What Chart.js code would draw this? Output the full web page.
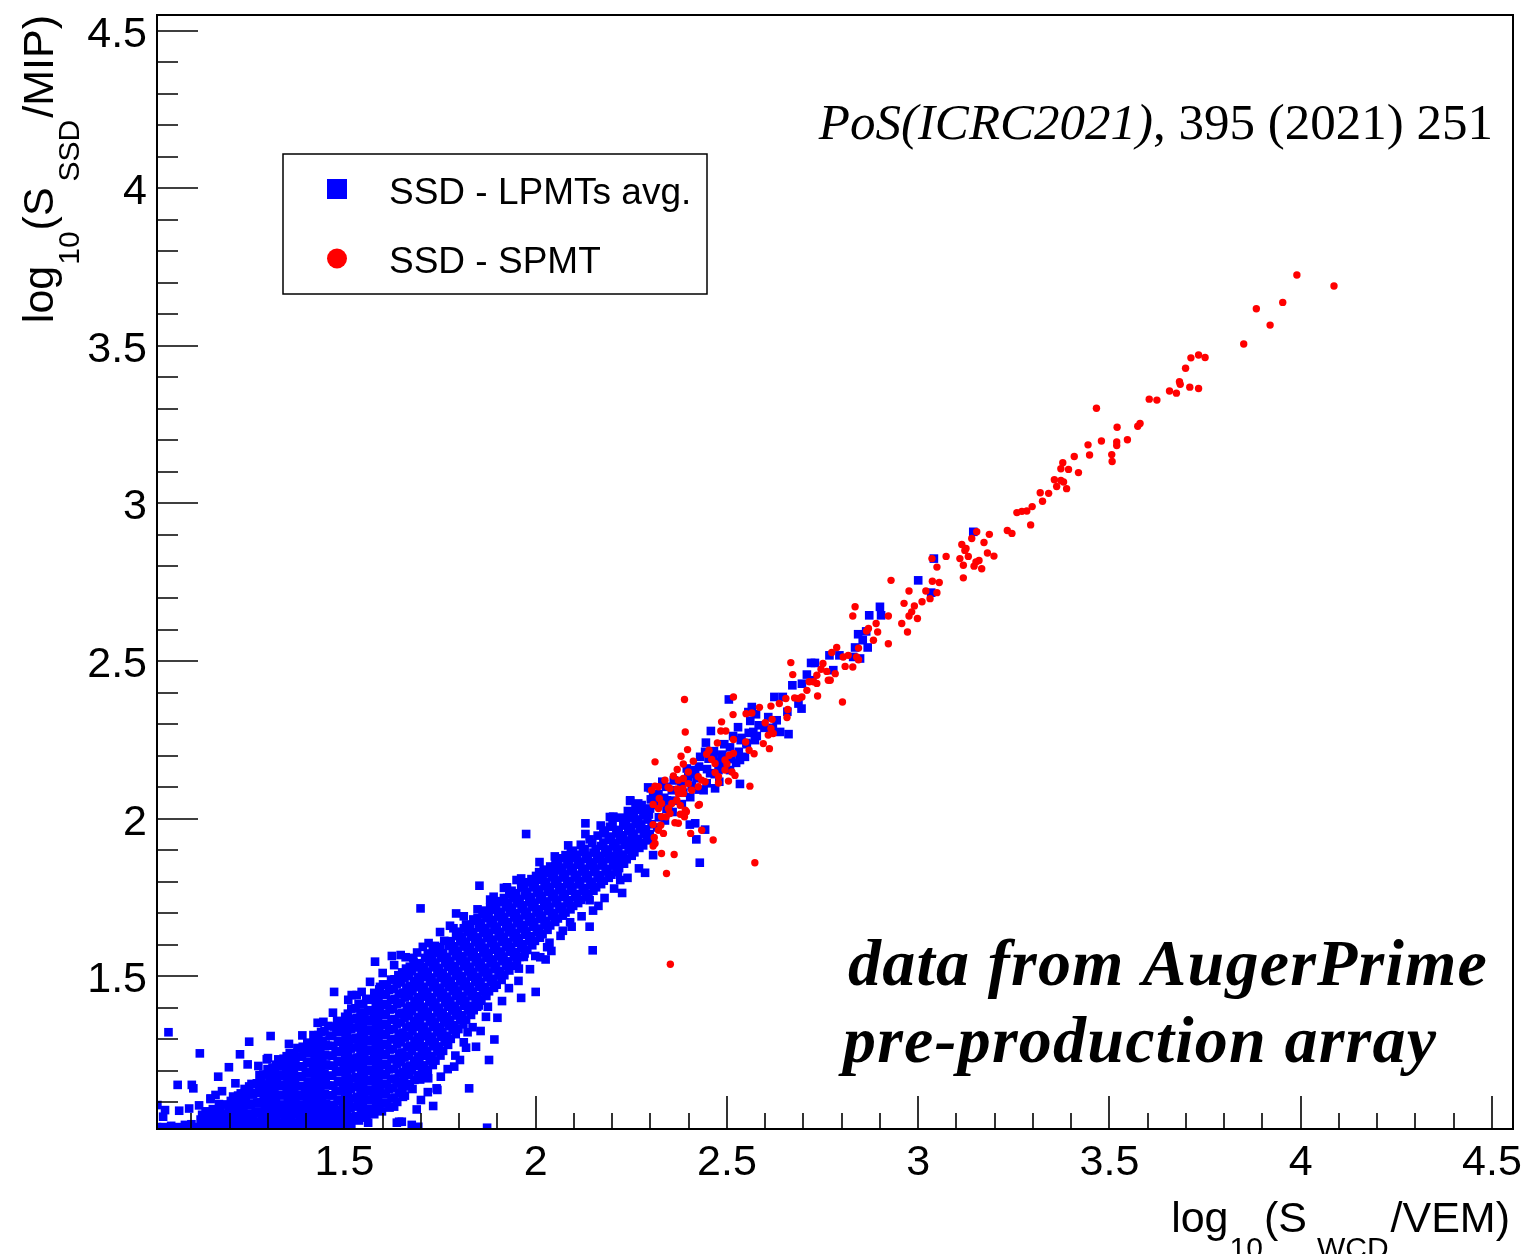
<!DOCTYPE html>
<html>
<head>
<meta charset="utf-8">
<title>SSD vs WCD signals</title>
<script src="https://cdn.jsdelivr.net/npm/chart.js@4.4.1/dist/chart.umd.min.js"></script>
<style>
  html, body { margin: 0; padding: 0; background: #fff; }
  #chart { display: block; }
</style>
</head>
<body>
<canvas id="chart" width="1532" height="1254"></canvas>
<script>
'use strict';

/* ─── Axis ranges, ticks & labels ──────────────────────────── */
const xRange     = [1.01, 4.555];
const yRange     = [1.015, 4.55];
const majorTicks = [1.5, 2, 2.5, 3, 3.5, 4, 4.5];
const tickLabels = ['1.5', '2', '2.5', '3', '3.5', '4', '4.5'];
const seriesNames = ['SSD - LPMTs avg.', 'SSD - SPMT'];
const noteText   = ['PoS(ICRC2021)', ', 395 (2021) 251'];
const bannerText = ['data from AugerPrime', 'pre-production array'];

/* ─── SSD - SPMT (red circles) [log10 S_WCD, log10 S_SSD] ──── */
const spmtPoints = [
  [3.990,3.725],[4.087,3.690],[3.884,3.618],[3.953,3.638],[3.920,3.566],[3.851,3.506],
  [3.713,3.462],[3.733,3.471],[3.750,3.463],[3.699,3.429],[3.683,3.386],[3.685,3.378],
  [3.657,3.357],[3.675,3.350],[3.710,3.369],[3.733,3.365],[3.604,3.331],[3.624,3.328],
  [3.466,3.302],[3.520,3.242],[3.574,3.245],[3.580,3.254],[3.547,3.202],[3.519,3.195],
  [3.519,3.184],[3.479,3.198],[3.444,3.186],[3.448,3.154],[3.506,3.155],[3.507,3.133],
  [3.408,3.149],[3.378,3.129],[3.373,3.110],[3.393,3.108],[3.419,3.098],[3.356,3.075],
  [3.373,3.073],[3.380,3.068],[3.362,3.054],[3.388,3.047],[3.319,3.034],[3.341,3.032],
  [3.325,3.007],[3.298,2.990],[3.258,2.971],[3.271,2.975],[3.284,2.976],[3.294,2.932],
  [3.233,2.914],[3.245,2.905],[3.186,2.902],[3.153,2.910],[3.140,2.889],[3.172,2.876],
  [3.114,2.870],[3.125,2.857],[3.122,2.851],[3.181,2.843],[3.198,2.833],[3.131,2.832],
  [3.109,2.825],[3.159,2.819],[3.151,2.814],[3.146,2.801],[3.166,2.793],[3.118,2.804],
  [3.118,2.764],[3.073,2.832],[3.036,2.825],[3.049,2.798],[2.929,2.756],[3.037,2.753],
  [3.055,2.749],[2.976,2.722],[3.020,2.722],[3.049,2.717],[3.031,2.698],[3.010,2.688],
  [2.963,2.683],[2.990,2.675],[2.983,2.656],[2.976,2.643],[2.998,2.635],[2.835,2.672],
  [2.829,2.643],[2.922,2.643],[2.972,2.592],[2.957,2.619],[2.922,2.555],[2.890,2.619],
  [2.870,2.603],[2.865,2.595],[2.894,2.592],[2.883,2.566],[2.787,2.543],[2.774,2.527],
  [2.804,2.513],[2.817,2.518],[2.839,2.513],[2.809,2.483],[2.829,2.481],[2.844,2.541],
  [2.844,2.504],[2.751,2.492],[2.746,2.474],[2.761,2.467],[2.783,2.460],[2.770,2.439],
  [2.735,2.455],[2.726,2.434],[2.715,2.434],[2.735,2.429],[2.737,2.389],[2.765,2.439],
  [2.709,2.407],[2.696,2.386],[2.687,2.381],[2.677,2.383],[2.667,2.495],[2.672,2.457],
  [2.654,2.381],[2.637,2.365],[2.659,2.346],[2.657,2.321],[2.615,2.357],[2.585,2.353],
  [2.600,2.304],[2.618,2.315],[2.615,2.286],[2.621,2.270],[2.608,2.265],[2.595,2.238],
  [2.611,2.222],[2.802,2.370],[2.517,2.386],[2.389,2.378],[2.391,2.275],[2.516,2.330],
  [2.550,2.333],[2.565,2.335],[2.486,2.307],[2.484,2.278],[2.497,2.278],[2.475,2.240],
  [2.517,2.251],[2.453,2.217],[2.447,2.204],[2.460,2.188],[2.469,2.175],[2.495,2.186],
  [2.506,2.201],[2.517,2.207],[2.500,2.173],[2.478,2.133],[2.495,2.154],[2.469,2.146],
  [2.478,2.113],[2.504,2.119],[2.521,2.137],[2.513,2.148],[2.560,2.103],[2.571,2.206],
  [2.549,2.243],[2.558,2.217],[2.397,2.219],[2.380,2.198],[2.412,2.182],[2.386,2.173],
  [2.312,2.180],[2.370,2.156],[2.360,2.135],[2.373,2.122],[2.386,2.127],[2.399,2.148],
  [2.399,2.111],[2.425,2.133],[2.434,2.122],[2.443,2.117],[2.425,2.101],[2.408,2.090],
  [2.385,2.096],[2.370,2.094],[2.351,2.096],[2.338,2.122],[2.321,2.101],[2.303,2.090],
  [2.323,2.064],[2.329,2.048],[2.321,2.032],[2.347,2.032],[2.356,2.048],[2.369,2.058],
  [2.378,2.042],[2.386,2.080],[2.373,2.080],[2.351,2.016],[2.341,2.006],[2.329,2.006],
  [2.378,2.014],[2.391,2.027],[2.389,2.006],[2.307,1.981],[2.327,1.979],[2.334,1.953],
  [2.321,1.963],[2.307,1.913],[2.312,1.921],[2.310,1.940],[2.329,1.889],[2.362,1.886],
  [2.342,1.826],[2.405,1.953],[2.434,1.963],[2.464,1.932],[2.573,1.860],[2.428,2.045],
  [2.352,1.538],[2.307,2.045],[2.394,2.022],[2.425,2.042],[2.364,1.987],[2.373,1.985],
  [2.312,2.103],[2.346,2.100]
];

/* ─── SSD - LPMTs avg. (blue squares): dense core ─────────── */
const lpmtCore = [
  [1.118,1.021],[1.124,1.045],[1.138,1.024],[1.143,1.052],[1.137,1.071],
  [1.158,1.020],[1.163,1.047],[1.156,1.078],[1.178,1.026],[1.183,1.054],[1.176,1.085],
  [1.199,1.019],[1.204,1.043],[1.197,1.072],[1.203,1.104],
  [1.218,1.025],[1.224,1.056],[1.216,1.088],[1.222,1.121],
  [1.238,1.020],[1.243,1.049],[1.236,1.079],[1.242,1.112],[1.239,1.142],
  [1.258,1.027],[1.262,1.058],[1.255,1.090],[1.261,1.124],[1.257,1.158],
  [1.279,1.020],[1.283,1.044],[1.276,1.071],[1.282,1.101],[1.277,1.135],[1.283,1.168],[1.278,1.186],
  [1.298,1.024],[1.303,1.053],[1.296,1.083],[1.302,1.116],[1.297,1.148],[1.304,1.179],[1.299,1.205],
  [1.318,1.019],[1.322,1.047],[1.316,1.075],[1.321,1.107],[1.317,1.138],[1.323,1.167],[1.318,1.197],[1.321,1.219],
  [1.338,1.026],[1.343,1.057],[1.336,1.089],[1.342,1.121],[1.337,1.152],[1.343,1.183],[1.339,1.214],[1.341,1.238],
  [1.358,1.021],[1.362,1.049],[1.356,1.078],[1.361,1.108],[1.357,1.141],[1.363,1.172],[1.358,1.203],[1.362,1.232],[1.357,1.256],
  [1.378,1.025],[1.383,1.055],[1.376,1.086],[1.382,1.118],[1.377,1.150],[1.383,1.181],[1.379,1.213],[1.381,1.245],[1.377,1.272],
  [1.398,1.020],[1.403,1.046],[1.396,1.074],[1.402,1.104],[1.397,1.135],[1.404,1.166],[1.399,1.196],[1.402,1.228],[1.397,1.259],[1.403,1.289],
  [1.418,1.024],[1.423,1.052],[1.416,1.083],[1.421,1.114],[1.417,1.146],[1.423,1.177],[1.418,1.209],[1.422,1.240],[1.417,1.271],[1.421,1.302],
  [1.438,1.021],[1.443,1.049],[1.436,1.078],[1.441,1.107],[1.437,1.138],[1.443,1.170],[1.439,1.201],[1.442,1.232],[1.437,1.264],[1.443,1.295],[1.439,1.323],
  [1.458,1.026],[1.462,1.057],[1.456,1.089],[1.461,1.121],[1.457,1.153],[1.462,1.184],[1.458,1.216],[1.463,1.248],[1.457,1.279],[1.461,1.311],[1.458,1.342],
  [1.478,1.020],[1.483,1.047],[1.476,1.076],[1.482,1.106],[1.477,1.137],[1.483,1.168],[1.478,1.200],[1.482,1.231],[1.477,1.262],[1.483,1.294],[1.479,1.326],[1.481,1.358],
  [1.498,1.031],[1.503,1.059],[1.496,1.088],[1.502,1.118],[1.497,1.149],[1.503,1.181],[1.498,1.212],[1.502,1.244],[1.497,1.275],[1.503,1.307],[1.499,1.338],[1.502,1.371],
  [1.518,1.027],[1.523,1.053],[1.516,1.082],[1.521,1.112],[1.517,1.143],[1.523,1.175],[1.518,1.206],[1.522,1.238],[1.517,1.270],[1.523,1.301],[1.518,1.333],[1.522,1.364],[1.518,1.397],
  [1.538,1.042],[1.543,1.071],[1.536,1.101],[1.542,1.132],[1.537,1.163],[1.543,1.195],[1.539,1.226],[1.542,1.258],[1.537,1.289],[1.543,1.321],[1.538,1.352],[1.542,1.384],[1.537,1.412],
  [1.558,1.051],[1.562,1.079],[1.556,1.109],[1.561,1.140],[1.557,1.171],[1.563,1.203],[1.558,1.234],[1.562,1.266],[1.557,1.297],[1.563,1.329],[1.558,1.361],[1.562,1.392],[1.557,1.428],
  [1.578,1.062],[1.583,1.091],[1.576,1.121],[1.582,1.152],[1.577,1.183],[1.583,1.215],[1.578,1.246],[1.582,1.278],[1.577,1.309],[1.583,1.341],[1.578,1.372],[1.582,1.404],[1.578,1.447],
  [1.598,1.071],[1.603,1.099],[1.596,1.128],[1.602,1.159],[1.597,1.190],[1.603,1.222],[1.598,1.253],[1.602,1.285],[1.597,1.316],[1.603,1.348],[1.598,1.380],[1.602,1.411],[1.598,1.443],[1.601,1.474],
  [1.618,1.083],[1.623,1.112],[1.616,1.142],[1.622,1.173],[1.617,1.204],[1.623,1.236],[1.618,1.267],[1.622,1.299],[1.617,1.330],[1.623,1.362],[1.618,1.394],[1.622,1.425],[1.617,1.457],[1.622,1.489],
  [1.638,1.101],[1.643,1.130],[1.636,1.160],[1.642,1.191],[1.637,1.222],[1.643,1.254],[1.638,1.285],[1.642,1.317],[1.637,1.348],[1.643,1.380],[1.638,1.412],[1.642,1.443],[1.637,1.475],[1.641,1.503],
  [1.658,1.121],[1.662,1.150],[1.656,1.180],[1.661,1.211],[1.657,1.242],[1.663,1.274],[1.658,1.305],[1.662,1.337],[1.657,1.368],[1.663,1.400],[1.658,1.432],[1.662,1.463],[1.657,1.495],[1.661,1.524],
  [1.678,1.142],[1.683,1.171],[1.676,1.201],[1.682,1.232],[1.677,1.263],[1.683,1.295],[1.678,1.326],[1.682,1.358],[1.677,1.389],[1.683,1.421],[1.678,1.453],[1.682,1.484],[1.677,1.516],[1.681,1.543],
  [1.698,1.172],[1.703,1.200],[1.696,1.229],[1.702,1.260],[1.697,1.291],[1.703,1.323],[1.698,1.354],[1.702,1.386],[1.697,1.417],[1.703,1.449],[1.698,1.481],[1.702,1.512],[1.697,1.541],
  [1.718,1.203],[1.723,1.232],[1.716,1.262],[1.722,1.293],[1.717,1.324],[1.723,1.356],[1.718,1.387],[1.722,1.419],[1.717,1.450],[1.723,1.482],[1.718,1.514],[1.722,1.545],[1.718,1.572],
  [1.738,1.232],[1.743,1.261],[1.736,1.291],[1.742,1.322],[1.737,1.353],[1.743,1.385],[1.738,1.416],[1.742,1.448],[1.737,1.479],[1.743,1.511],[1.738,1.543],[1.742,1.574],[1.737,1.596],
  [1.758,1.263],[1.762,1.292],[1.756,1.322],[1.761,1.353],[1.757,1.384],[1.763,1.416],[1.758,1.447],[1.762,1.479],[1.757,1.510],[1.763,1.542],[1.758,1.573],[1.761,1.612],
  [1.778,1.301],[1.783,1.330],[1.776,1.360],[1.782,1.391],[1.777,1.422],[1.783,1.454],[1.778,1.485],[1.782,1.517],[1.777,1.548],[1.783,1.580],[1.778,1.611],
  [1.798,1.332],[1.803,1.361],[1.796,1.391],[1.802,1.422],[1.797,1.453],[1.803,1.485],[1.798,1.516],[1.802,1.548],[1.797,1.579],[1.803,1.611],[1.798,1.641],
  [1.818,1.362],[1.823,1.391],[1.816,1.421],[1.822,1.452],[1.817,1.483],[1.823,1.515],[1.818,1.546],[1.822,1.578],[1.817,1.609],[1.823,1.641],[1.818,1.664],
  [1.838,1.392],[1.843,1.421],[1.836,1.451],[1.842,1.482],[1.837,1.513],[1.843,1.545],[1.838,1.576],[1.842,1.608],[1.837,1.639],[1.841,1.676],
  [1.858,1.422],[1.862,1.451],[1.856,1.481],[1.861,1.512],[1.857,1.543],[1.863,1.575],[1.858,1.606],[1.862,1.638],[1.857,1.669],[1.861,1.697],
  [1.878,1.452],[1.883,1.481],[1.876,1.511],[1.882,1.542],[1.877,1.573],[1.883,1.605],[1.878,1.636],[1.882,1.668],[1.877,1.699],[1.881,1.718],
  [1.898,1.473],[1.903,1.502],[1.896,1.532],[1.902,1.563],[1.897,1.594],[1.903,1.626],[1.898,1.657],[1.902,1.689],[1.897,1.720],[1.901,1.738],
  [1.918,1.503],[1.923,1.532],[1.916,1.562],[1.922,1.593],[1.917,1.624],[1.923,1.656],[1.918,1.687],[1.922,1.719],[1.917,1.748],
  [1.938,1.533],[1.943,1.562],[1.936,1.592],[1.942,1.623],[1.937,1.654],[1.943,1.686],[1.938,1.717],[1.942,1.749],[1.937,1.771],
  [1.958,1.561],[1.962,1.590],[1.956,1.620],[1.961,1.651],[1.957,1.682],[1.963,1.714],[1.958,1.745],[1.962,1.781],
  [1.978,1.583],[1.983,1.612],[1.976,1.642],[1.982,1.673],[1.977,1.704],[1.983,1.736],[1.978,1.767],[1.981,1.798],
  [1.998,1.612],[2.003,1.641],[1.996,1.671],[2.002,1.702],[1.997,1.733],[2.003,1.765],[1.998,1.796],[2.001,1.818],
  [2.018,1.633],[2.023,1.662],[2.016,1.692],[2.022,1.723],[2.017,1.754],[2.023,1.786],[2.018,1.817],[2.021,1.838],
  [2.038,1.661],[2.043,1.690],[2.036,1.720],[2.042,1.751],[2.037,1.782],[2.043,1.814],[2.038,1.848],
  [2.058,1.683],[2.062,1.712],[2.056,1.742],[2.061,1.773],[2.057,1.804],[2.063,1.836],[2.058,1.866],
  [2.078,1.702],[2.083,1.731],[2.076,1.761],[2.082,1.792],[2.077,1.823],[2.083,1.855],[2.078,1.884],
  [2.098,1.723],[2.103,1.752],[2.096,1.782],[2.102,1.813],[2.097,1.844],[2.103,1.876],[2.098,1.898],
  [2.118,1.742],[2.123,1.771],[2.116,1.801],[2.122,1.832],[2.117,1.863],[2.123,1.895],[2.118,1.917],
  [2.138,1.761],[2.143,1.790],[2.136,1.820],[2.142,1.851],[2.137,1.882],[2.141,1.934],
  [2.158,1.782],[2.162,1.811],[2.156,1.841],[2.161,1.872],[2.157,1.903],[2.162,1.946],
  [2.178,1.803],[2.183,1.832],[2.176,1.862],[2.182,1.893],[2.177,1.924],[2.181,1.962],
  [2.198,1.822],[2.203,1.851],[2.196,1.881],[2.202,1.912],[2.197,1.943],[2.201,1.983],
  [2.218,1.843],[2.223,1.872],[2.216,1.902],[2.222,1.933],[2.217,1.964],[2.221,2.003],
  [2.238,1.871],[2.243,1.900],[2.236,1.930],[2.242,1.961],[2.237,1.992],[2.241,2.024],
  [2.258,1.893],[2.262,1.922],[2.256,1.952],[2.261,1.983],[2.257,2.014],[2.261,2.038],
  [2.278,1.922],[2.283,1.951],[2.276,1.981],[2.282,2.012],[2.277,2.043],
  [2.298,1.951],[2.303,1.982],[2.296,2.013],[2.301,2.061],
  [2.318,1.972],[2.322,2.004],[2.316,2.043],[2.321,2.078],
  [2.338,1.994],[2.342,2.031],[2.336,2.066],[2.341,2.101],
  [2.358,2.021],[2.362,2.057],[2.356,2.090],[2.361,2.121]
];

/* ─── SSD - LPMTs avg.: in-between points of the core ─────── */
const lpmtFill = [
  [1.131,1.036],[1.128,1.060],[1.151,1.035],[1.148,1.064],[1.171,1.038],[1.168,1.068],[1.172,1.094],
  [1.191,1.034],[1.188,1.062],[1.192,1.093],[1.211,1.035],[1.208,1.066],[1.212,1.097],[1.209,1.118],
  [1.231,1.036],[1.228,1.067],[1.232,1.098],[1.229,1.128],
  [1.251,1.034],[1.248,1.064],[1.252,1.096],[1.249,1.127],[1.251,1.150],
  [1.271,1.036],[1.268,1.066],[1.272,1.098],[1.269,1.130],[1.271,1.160],
  [1.291,1.033],[1.288,1.062],[1.292,1.093],[1.289,1.124],[1.291,1.156],[1.288,1.188],
  [1.311,1.036],[1.308,1.065],[1.312,1.096],[1.309,1.127],[1.311,1.158],[1.308,1.190],[1.312,1.210],
  [1.331,1.033],[1.328,1.062],[1.332,1.093],[1.329,1.124],[1.331,1.156],[1.328,1.188],[1.332,1.220],
  [1.351,1.036],[1.348,1.066],[1.352,1.097],[1.349,1.128],[1.351,1.160],[1.348,1.191],[1.352,1.222],[1.349,1.246],
  [1.371,1.034],[1.368,1.064],[1.372,1.095],[1.369,1.126],[1.371,1.158],[1.368,1.190],[1.372,1.221],[1.369,1.252],
  [1.391,1.035],[1.388,1.062],[1.392,1.092],[1.389,1.122],[1.391,1.152],[1.388,1.183],[1.392,1.214],[1.389,1.245],[1.391,1.276],
  [1.411,1.033],[1.408,1.064],[1.412,1.096],[1.409,1.128],[1.411,1.160],[1.408,1.192],[1.412,1.224],[1.409,1.255],[1.411,1.286],
  [1.431,1.036],[1.428,1.066],[1.432,1.097],[1.429,1.128],[1.431,1.160],[1.428,1.191],[1.432,1.222],[1.429,1.252],[1.431,1.284],[1.428,1.310],
  [1.451,1.034],[1.448,1.064],[1.452,1.095],[1.449,1.126],[1.451,1.158],[1.448,1.189],[1.452,1.220],[1.449,1.251],[1.451,1.283],[1.448,1.326],
  [1.471,1.035],[1.468,1.062],[1.472,1.092],[1.469,1.122],[1.471,1.153],[1.468,1.184],[1.472,1.216],[1.469,1.247],[1.471,1.279],[1.468,1.310],[1.472,1.340],
  [1.491,1.044],[1.488,1.073],[1.492,1.103],[1.489,1.134],[1.491,1.165],[1.488,1.196],[1.492,1.228],[1.489,1.259],[1.491,1.291],[1.488,1.322],[1.492,1.352],
  [1.511,1.042],[1.508,1.068],[1.512,1.098],[1.509,1.128],[1.511,1.159],[1.508,1.190],[1.512,1.222],[1.509,1.254],[1.511,1.286],[1.508,1.317],[1.512,1.349],[1.509,1.381],
  [1.531,1.056],[1.528,1.086],[1.532,1.117],[1.529,1.148],[1.531,1.179],[1.528,1.211],[1.532,1.242],[1.529,1.274],[1.531,1.305],[1.528,1.337],[1.532,1.368],[1.529,1.398],
  [1.551,1.064],[1.548,1.094],[1.552,1.124],[1.549,1.155],[1.551,1.187],[1.548,1.218],[1.552,1.250],[1.549,1.281],[1.551,1.313],[1.548,1.345],[1.552,1.376],[1.549,1.410],
  [1.571,1.076],[1.568,1.106],[1.572,1.136],[1.569,1.167],[1.571,1.199],[1.568,1.230],[1.572,1.262],[1.569,1.293],[1.571,1.325],[1.568,1.356],[1.572,1.388],[1.569,1.425],
  [1.591,1.085],[1.588,1.114],[1.592,1.144],[1.589,1.175],[1.591,1.206],[1.588,1.238],[1.592,1.269],[1.589,1.301],[1.591,1.332],[1.588,1.364],[1.592,1.396],[1.589,1.428],[1.591,1.458],
  [1.611,1.097],[1.608,1.126],[1.612,1.156],[1.609,1.187],[1.611,1.218],[1.608,1.250],[1.612,1.281],[1.609,1.313],[1.611,1.344],[1.608,1.376],[1.612,1.408],[1.609,1.440],[1.611,1.472],
  [1.631,1.115],[1.628,1.144],[1.632,1.175],[1.629,1.206],[1.631,1.238],[1.628,1.269],[1.632,1.301],[1.629,1.332],[1.631,1.364],[1.628,1.396],[1.632,1.428],[1.629,1.460],[1.631,1.490],
  [1.651,1.135],[1.648,1.165],[1.652,1.196],[1.649,1.227],[1.651,1.258],[1.648,1.290],[1.652,1.321],[1.649,1.353],[1.651,1.384],[1.648,1.416],[1.652,1.448],[1.649,1.480],[1.651,1.512],
  [1.671,1.157],[1.668,1.186],[1.672,1.216],[1.669,1.247],[1.671,1.279],[1.668,1.310],[1.672,1.342],[1.669,1.373],[1.671,1.405],[1.668,1.437],[1.672,1.469],[1.669,1.500],[1.671,1.530],
  [1.691,1.186],[1.688,1.215],[1.692,1.245],[1.689,1.276],[1.691,1.307],[1.688,1.339],[1.692,1.370],[1.689,1.402],[1.691,1.433],[1.688,1.465],[1.692,1.497],[1.689,1.528],
  [1.711,1.188],[1.708,1.217],[1.712,1.247],[1.709,1.278],[1.711,1.309],[1.708,1.340],[1.712,1.372],[1.709,1.403],[1.711,1.435],[1.708,1.466],[1.712,1.498],[1.709,1.530],[1.711,1.558],
  [1.731,1.218],[1.728,1.247],[1.732,1.277],[1.729,1.308],[1.731,1.339],[1.728,1.370],[1.732,1.402],[1.729,1.433],[1.731,1.465],[1.728,1.496],[1.732,1.528],[1.729,1.560],[1.731,1.586],
  [1.751,1.248],[1.748,1.277],[1.752,1.307],[1.749,1.338],[1.751,1.369],[1.748,1.400],[1.752,1.432],[1.749,1.463],[1.751,1.495],[1.748,1.526],[1.752,1.558],[1.749,1.592],
  [1.771,1.282],[1.768,1.311],[1.772,1.341],[1.769,1.372],[1.771,1.403],[1.768,1.435],[1.772,1.466],[1.769,1.498],[1.771,1.529],[1.768,1.561],[1.772,1.596],
  [1.791,1.316],[1.788,1.345],[1.792,1.375],[1.789,1.406],[1.791,1.437],[1.788,1.469],[1.792,1.500],[1.789,1.532],[1.791,1.563],[1.788,1.595],[1.792,1.627],
  [1.811,1.347],[1.808,1.376],[1.812,1.406],[1.809,1.437],[1.811,1.468],[1.808,1.500],[1.812,1.531],[1.809,1.563],[1.811,1.594],[1.808,1.626],[1.812,1.652],
  [1.831,1.377],[1.828,1.406],[1.832,1.436],[1.829,1.467],[1.831,1.498],[1.828,1.530],[1.832,1.561],[1.829,1.593],[1.831,1.624],[1.828,1.656],
  [1.851,1.407],[1.848,1.436],[1.852,1.466],[1.849,1.497],[1.851,1.528],[1.848,1.560],[1.852,1.591],[1.849,1.623],[1.851,1.654],[1.848,1.684],
  [1.871,1.437],[1.868,1.466],[1.872,1.496],[1.869,1.527],[1.871,1.558],[1.868,1.590],[1.872,1.621],[1.869,1.653],[1.871,1.684],[1.868,1.708],
  [1.891,1.463],[1.888,1.492],[1.892,1.522],[1.889,1.553],[1.891,1.584],[1.888,1.616],[1.892,1.647],[1.889,1.679],[1.891,1.710],[1.888,1.730],
  [1.911,1.488],[1.908,1.517],[1.912,1.547],[1.909,1.578],[1.911,1.609],[1.908,1.641],[1.912,1.672],[1.909,1.704],[1.911,1.735],
  [1.931,1.518],[1.928,1.547],[1.932,1.577],[1.929,1.608],[1.931,1.639],[1.928,1.671],[1.932,1.702],[1.929,1.734],[1.931,1.760],
  [1.951,1.547],[1.948,1.576],[1.952,1.606],[1.949,1.637],[1.951,1.668],[1.948,1.700],[1.952,1.731],[1.949,1.763],
  [1.971,1.572],[1.968,1.601],[1.972,1.631],[1.969,1.662],[1.971,1.693],[1.968,1.725],[1.972,1.756],[1.969,1.788],
  [1.991,1.598],[1.988,1.627],[1.992,1.657],[1.989,1.688],[1.991,1.719],[1.988,1.751],[1.992,1.782],[1.989,1.808],
  [2.011,1.622],[2.008,1.651],[2.012,1.681],[2.009,1.712],[2.011,1.743],[2.008,1.775],[2.012,1.806],[2.009,1.830],
  [2.031,1.647],[2.028,1.676],[2.032,1.706],[2.029,1.737],[2.031,1.768],[2.028,1.800],[2.032,1.831],
  [2.051,1.672],[2.048,1.701],[2.052,1.731],[2.049,1.762],[2.051,1.793],[2.048,1.825],[2.052,1.856],
  [2.071,1.692],[2.068,1.721],[2.072,1.751],[2.069,1.782],[2.071,1.813],[2.068,1.845],[2.072,1.874],
  [2.091,1.712],[2.088,1.741],[2.092,1.771],[2.089,1.802],[2.091,1.833],[2.088,1.865],[2.092,1.890],
  [2.111,1.732],[2.108,1.761],[2.112,1.791],[2.109,1.822],[2.111,1.853],[2.108,1.885],
  [2.131,1.751],[2.128,1.780],[2.132,1.810],[2.129,1.841],[2.131,1.872],[2.128,1.904],
  [2.151,1.771],[2.148,1.800],[2.152,1.830],[2.149,1.861],[2.151,1.892],[2.148,1.922],
  [2.171,1.792],[2.168,1.821],[2.172,1.851],[2.169,1.882],[2.171,1.913],
  [2.191,1.812],[2.188,1.841],[2.192,1.871],[2.189,1.902],[2.191,1.933],
  [2.211,1.832],[2.208,1.861],[2.212,1.891],[2.209,1.922],[2.211,1.953],
  [2.231,1.857],[2.228,1.886],[2.232,1.916],[2.229,1.947],[2.231,1.978],
  [2.251,1.882],[2.248,1.911],[2.252,1.941],[2.249,1.972],[2.251,2.003],
  [2.271,1.907],[2.268,1.936],[2.272,1.966],[2.269,1.997],[2.271,2.028],
  [2.291,1.936],[2.288,1.966],[2.292,1.997],[2.289,2.030]
];

/* ─── SSD - LPMTs avg.: scattered edge points ─────────────── */
const lpmtEdge = [
  [1.011,1.091],[1.031,1.075],[1.026,1.054],[1.010,1.021],[1.026,1.021],[1.062,1.021],
  [1.083,1.028],[1.068,1.073],[1.094,1.080],[1.040,1.322],[1.064,1.155],[1.101,1.155],
  [1.105,1.144],[1.122,1.255],[1.047,1.025],[1.075,1.019],[1.100,1.030],
  [1.251,1.292],[1.307,1.310],[1.227,1.252],[1.198,1.211],[1.170,1.181],[1.247,1.220],
  [1.150,1.112],[1.163,1.123],[1.473,1.450],[1.519,1.440],[1.532,1.440],[1.445,1.355],
  [1.493,1.355],[1.580,1.546],[1.624,1.564],[1.647,1.567],[1.680,1.558],[1.705,1.593],
  [1.741,1.144],[1.732,1.088],[1.689,1.077],[1.693,1.022],[1.650,1.038],[1.637,1.035],
  [1.562,1.035],[1.699,1.715],[1.873,1.019],[1.826,1.144],[1.743,1.139],
  [1.297,1.236],[1.327,1.236],[1.349,1.228],[1.393,1.266],[1.410,1.274],[1.419,1.313],
  [1.432,1.313],[1.567,1.482],[1.593,1.466],
  [1.853,1.787],[1.917,1.780],[1.962,1.810],[1.975,1.951],[2.022,1.828],[2.046,1.817],
  [2.051,1.849],[2.141,1.657],[2.149,1.582],[2.164,1.723],[2.141,1.741],[2.071,1.644],
  [2.094,1.657],[2.000,1.450],[1.962,1.431],[1.956,1.524],[1.999,1.564],[1.969,1.561],
  [2.026,1.553],[2.041,1.580],[2.036,1.606],[1.900,1.368],[1.878,1.234],[1.892,1.299],
  [1.844,1.276],[1.818,1.273],[1.802,1.234],[1.787,1.213],[1.856,1.326],[1.822,1.322],
  [1.875,1.403],[1.850,1.424],[1.847,1.403],[1.719,1.176],[1.653,1.165],[1.650,1.139],
  [1.653,1.117],[1.630,1.086],[1.643,1.038],[1.676,1.028],
  [1.792,1.699],[1.776,1.660],[1.837,1.680],[1.881,1.743],
  [1.700,1.107],[1.718,1.132],[1.752,1.181],[1.770,1.205],[1.790,1.248],[1.812,1.290],
  [1.835,1.338],[1.870,1.371],[1.912,1.421],[1.930,1.462],[1.955,1.485],[1.985,1.522],
  [2.012,1.560],[2.030,1.592],[2.065,1.628],[2.090,1.671],[2.120,1.690],[2.150,1.708],
  [2.180,1.748],[2.205,1.778],[2.240,1.812],[2.270,1.842],
  [1.120,1.090],[1.150,1.110],[1.180,1.135],[1.215,1.160],[1.275,1.215],[1.300,1.240],
  [1.355,1.285],[1.390,1.312],[1.430,1.352],[1.470,1.384],[1.510,1.425],[1.545,1.450],
  [1.600,1.510],[1.630,1.535],[1.660,1.560],[1.690,1.575],[1.720,1.605],[1.750,1.640],
  [1.785,1.652],[1.812,1.690],[1.848,1.712],[1.890,1.752],[1.925,1.782],[1.950,1.805],
  [2.010,1.862],[2.050,1.880],[2.085,1.915],[2.130,1.951],[2.170,1.978]
];

/* ─── SSD - LPMTs avg.: high-signal tail ──────────────────── */
const lpmtTail = [
  [2.286,1.828],[2.226,1.764],[2.215,1.830],[2.221,1.805],[2.194,2.005],[2.202,2.005],
  [2.130,1.985],[2.247,2.056],[2.294,2.099],[2.307,2.068],
  [3.000,2.756],[2.900,2.672],[2.872,2.645],[2.903,2.645],[2.864,2.594],[2.843,2.585],
  [2.855,2.566],[2.868,2.543],[2.835,2.543],[2.720,2.494],[2.730,2.494],[2.709,2.457],
  [2.671,2.423],[2.696,2.428],[2.723,2.439],[2.768,2.518],[2.794,2.518],[2.778,2.471],
  [2.830,2.513],[2.848,2.508],[2.624,2.386],[2.646,2.386],[2.687,2.365],[2.695,2.349],
  [2.658,2.339],[2.505,2.378],[2.565,2.354],[2.556,2.338],[2.608,2.322],[2.630,2.312],
  [2.639,2.275],[2.661,2.268],[2.620,2.288],[2.458,2.278],[2.445,2.241],[2.538,2.256],
  [2.551,2.240],[2.569,2.275],[2.573,2.249],[2.524,2.177],[2.508,2.154],[2.534,2.186],
  [2.547,2.196],[2.534,2.110],[2.430,2.196],[2.443,2.212],[2.465,2.191],[2.486,2.196],
  [2.495,2.175],[2.478,2.154],[2.456,2.144],[2.447,2.112],[2.469,2.096],[2.480,2.117],
  [2.439,2.090],[2.417,2.154],[2.399,2.133],[2.395,2.159],
  [2.331,2.117],[2.301,2.096],[2.312,2.069],[2.343,2.058],[2.347,2.032],[2.299,2.032],
  [2.282,2.016],[2.247,2.058],[2.268,2.048],[2.255,2.016],[2.264,1.995],[2.242,2.006],
  [2.229,1.985],[2.203,2.006],[2.194,1.974],[2.212,1.963],[2.177,1.953],[2.220,1.942],
  [2.247,1.921],[2.268,1.910],[2.281,1.915],[2.307,1.884],[2.299,1.931],[2.251,1.889],
  [2.229,1.857],[2.203,1.868],[2.186,1.889],[2.403,1.981],[2.420,1.934],[2.429,1.860],
  [2.443,1.965],[2.417,1.985],[3.144,2.910],[3.041,2.825],[3.034,2.717],
  [2.382,2.046],[2.386,2.082],[2.381,2.116],[2.404,2.068],[2.408,2.105],[2.402,2.142],
  [2.426,2.092],[2.421,2.128],[2.427,2.165],[2.448,2.157],[2.452,2.190],[2.468,2.141],
  [2.474,2.178],[2.466,2.214],[2.491,2.165],[2.488,2.203],[2.493,2.236],[2.512,2.189],
  [2.508,2.226],[2.516,2.262],[2.531,2.212],[2.536,2.249],[2.529,2.290],[2.552,2.236],
  [2.557,2.272],[2.561,2.310],[2.578,2.262],[2.583,2.296],[2.576,2.331],[2.598,2.288]
];

const lpmtPoints = lpmtCore.concat(lpmtFill, lpmtEdge, lpmtTail);

/* ─── Helpers ──────────────────────────────────────────────── */
const toXY = arr => arr.map(([x, y]) => ({ x, y }));
const SANS  = '"Liberation Sans", Arial, Helvetica, sans-serif';
const SERIF = '"Liberation Serif", "Times New Roman", Times, serif';

// draw text made of runs: [text, size, baselineShift, gapBefore]
function drawRuns(ctx, runs, x, y, align) {
  let w = 0;
  runs.forEach(r => { ctx.font = `${r[1]}px ${SANS}`; w += r[3] + ctx.measureText(r[0]).width; });
  let cx = align === 'right' ? x - w : x;
  ctx.textAlign = 'left';
  ctx.textBaseline = 'alphabetic';
  runs.forEach(r => {
    ctx.font = `${r[1]}px ${SANS}`;
    cx += r[3];
    ctx.fillText(r[0], cx, y + r[2]);
    cx += ctx.measureText(r[0]).width;
  });
}

/* ─── ROOT-style frame, ticks, labels and texts ───────────── */
const rootFrame = {
  id: 'rootFrame',
  afterDraw(chart) {
    const { ctx, chartArea: a, scales: { x, y } } = chart;
    ctx.save();
    ctx.strokeStyle = '#000';
    ctx.fillStyle = '#000';

    // inward ticks every 0.1, long ones on the labelled values
    ctx.lineWidth = 1.6;
    ctx.beginPath();
    for (let i = 11; i <= 45; i++) {
      const v = i / 10;
      const major = i % 5 === 0;
      const px = Math.round(x.getPixelForValue(v));
      ctx.moveTo(px, a.bottom);
      ctx.lineTo(px, a.bottom - (major ? 33 : 16));
      const py = Math.round(y.getPixelForValue(v));
      ctx.moveTo(a.left, py);
      ctx.lineTo(a.left + (major ? 41 : 21), py);
    }
    ctx.stroke();

    ctx.lineWidth = 2;
    ctx.strokeRect(a.left, a.top, a.right - a.left, a.bottom - a.top);

    // tick labels
    ctx.font = `43px ${SANS}`;
    ctx.textBaseline = 'alphabetic';
    majorTicks.forEach((v, i) => {
      ctx.textAlign = 'center';
      ctx.fillText(tickLabels[i], x.getPixelForValue(v), a.bottom + 46);
      ctx.textAlign = 'right';
      ctx.fillText(tickLabels[i], a.left - 10, y.getPixelForValue(v) + 16);
    });

    // axis titles
    drawRuns(ctx, [['log', 43, 0, 0], ['10', 30, 26, 1], ['(S', 43, 0, 1],
                   ['WCD', 30, 26, 10], ['/VEM)', 43, 0, 2]], a.right - 3, 1232, 'right');
    ctx.save();
    ctx.translate(53, a.top);
    ctx.rotate(-Math.PI / 2);
    drawRuns(ctx, [['log', 43, 0, 0], ['10', 30, 26, 1], ['(S', 43, 0, 1],
                   ['SSD', 30, 26, 6], ['/MIP)', 43, 0, 2]], 0, 0, 'right');
    ctx.restore();

    // legend box
    ctx.lineWidth = 1.5;
    ctx.strokeRect(283, 154, 424, 140);
    ctx.fillStyle = '#0000ff';
    ctx.fillRect(327, 179, 20, 20);
    ctx.fillStyle = '#ff0000';
    ctx.beginPath();
    ctx.arc(337, 258.5, 10, 0, Math.PI * 2);
    ctx.fill();
    ctx.fillStyle = '#000';
    ctx.font = `37px ${SANS}`;
    ctx.textAlign = 'left';
    ctx.fillText(seriesNames[0], 389, 204);
    ctx.fillText(seriesNames[1], 389, 273);

    // reference note (italic + roman)
    ctx.font = `51px ${SERIF}`;
    const tailW = ctx.measureText(noteText[1]).width;
    ctx.textAlign = 'right';
    ctx.fillText(noteText[1], 1493, 139);
    ctx.font = `italic 51px ${SERIF}`;
    ctx.fillText(noteText[0], 1493 - tailW, 139);

    // banner
    ctx.textAlign = 'left';
    ctx.font = `italic bold 66px ${SERIF}`;
    ctx.letterSpacing = '1.2px';
    ctx.fillText(bannerText[0], 848, 985);
    ctx.fillText(bannerText[1], 843, 1062);
    ctx.letterSpacing = '0px';

    ctx.restore();
  }
};

/* ─── Chart ────────────────────────────────────────────────── */
new Chart(document.getElementById('chart'), {
  type: 'scatter',
  data: {
    datasets: [
      {
        label: seriesNames[1],
        data: toXY(spmtPoints),
        order: 1,
        pointStyle: 'circle',
        pointRadius: 3.7,
        pointHoverRadius: 3.7,
        borderWidth: 0,
        backgroundColor: '#ff0000',
        borderColor: '#ff0000'
      },
      {
        label: seriesNames[0],
        data: toXY(lpmtPoints),
        order: 2,
        pointStyle: 'rect',
        pointRadius: 6.1,
        pointHoverRadius: 6.1,
        borderWidth: 0,
        backgroundColor: '#0000ff',
        borderColor: '#0000ff'
      }
    ]
  },
  options: {
    responsive: false,
    devicePixelRatio: 1,
    animation: false,
    layout: { padding: { left: 157, right: 19, top: 15, bottom: 125 } },
    plugins: { legend: { display: false }, tooltip: { enabled: false } },
    scales: {
      x: { type: 'linear', min: xRange[0], max: xRange[1], display: false },
      y: { type: 'linear', min: yRange[0], max: yRange[1], display: false }
    }
  },
  plugins: [rootFrame]
});
</script>
</body>
</html>
